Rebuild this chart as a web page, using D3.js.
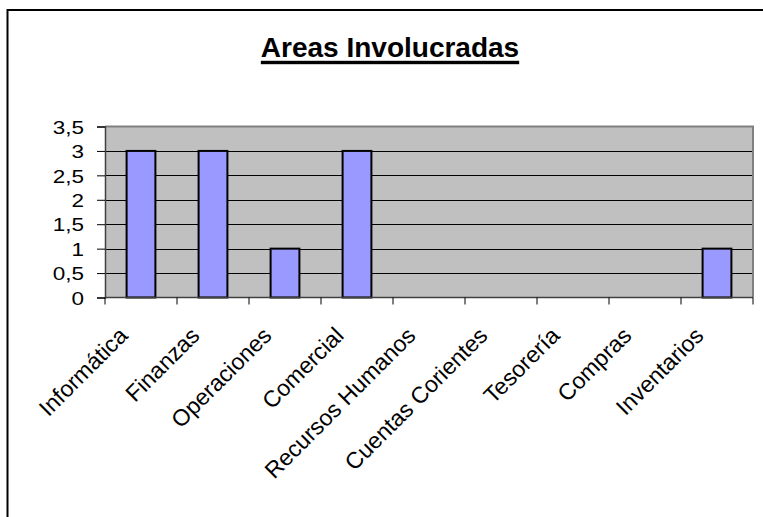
<!DOCTYPE html>
<html>
<head>
<meta charset="utf-8">
<script src="https://cdn.jsdelivr.net/npm/d3@7"></script>
<style>
  html, body { margin: 0; padding: 0; background: #fff; }
  svg { display: block; }
  text { font-family: "Liberation Sans", Arial, sans-serif; fill: #000; }
</style>
</head>
<body>
<svg id="chart" width="763" height="517"></svg>
<script>
const chartTitle = "Areas Involucradas";
const categories = ["Informática", "Finanzas", "Operaciones", "Comercial", "Recursos Humanos",
                    "Cuentas Corientes", "Tesorería", "Compras", "Inventarios"];
const values = [3, 3, 1, 3, 0, 0, 0, 0, 1];
const yTicks = [0, 0.5, 1, 1.5, 2, 2.5, 3, 3.5];

const svg = d3.select("#chart");
const plot = { left: 105, right: 753, top: 126.5, bottom: 297.5 };

// outer frame (right/bottom edges fall outside the picture)
svg.append("rect")
  .attr("x", 7.5).attr("y", 10).attr("width", 820).attr("height", 600)
  .attr("fill", "#fff").attr("stroke", "#000").attr("stroke-width", 2);

// title
const title = svg.append("text")
  .attr("x", 390).attr("y", 57)
  .attr("text-anchor", "middle")
  .style("font-size", "28px").style("font-weight", "bold")
  .text(chartTitle);
const tw = title.node().getComputedTextLength();
svg.append("rect")
  .attr("x", 390 - tw / 2).attr("y", 60.8)
  .attr("width", tw).attr("height", 3.4)
  .attr("fill", "#000");

const x = d3.scaleBand().domain(categories)
  .range([plot.left, plot.right]).paddingInner(0.6).paddingOuter(0.3);
const step = x.step();
const y = d3.scaleLinear().domain([0, 3.5]).range([plot.bottom, plot.top]);

// plot background
svg.append("rect")
  .attr("x", plot.left).attr("y", plot.top)
  .attr("width", plot.right - plot.left).attr("height", plot.bottom - plot.top)
  .attr("fill", "#c0c0c0");

// gridlines
svg.append("g").selectAll("line").data(yTicks.filter(t => t > 0 && t < 3.5)).join("line")
  .attr("x1", plot.left).attr("x2", plot.right)
  .attr("y1", d => Math.round(y(d)) + 0.5).attr("y2", d => Math.round(y(d)) + 0.5)
  .attr("stroke", "#000").attr("stroke-width", 1);

// plot border (top/right grey)
svg.append("path")
  .attr("d", `M${plot.left},${plot.top}H${plot.right}V${plot.bottom}`)
  .attr("fill", "none").attr("stroke", "#808080").attr("stroke-width", 2);

// bars
svg.append("g").selectAll("rect").data(categories.map((c, i) => ({ c, v: values[i] })))
  .join("rect")
  .attr("x", d => x(d.c)).attr("width", x.bandwidth())
  .attr("y", d => y(d.v)).attr("height", d => y(0) - y(d.v))
  .attr("fill", "#9999ff").attr("stroke", "#000").attr("stroke-width", 2);

// y axis
const fmt = d => String(d).replace(".", ",");
const yAxis = d3.axisLeft(y).tickValues(yTicks).tickFormat(fmt).tickSize(8).tickPadding(0);
const gy = svg.append("g").attr("transform", `translate(${plot.left},0)`).call(yAxis);
gy.select(".domain").attr("stroke", "#404040").attr("stroke-width", 1.5);
gy.selectAll(".tick line").attr("stroke", "#000");
gy.selectAll(".tick text").remove();
gy.selectAll(".tick").append("text")
  .attr("text-anchor", "end")
  .attr("dominant-baseline", "central")
  .attr("transform", "translate(-21,0.5) scale(1.25,1)")
  .style("font-size", "18px")
  .text(d => fmt(d));

// x axis with ticks at category boundaries
const gx = svg.append("g").attr("transform", `translate(0,${plot.bottom})`);
gx.append("line").attr("x1", plot.left).attr("x2", plot.right)
  .attr("y1", 0).attr("y2", 0).attr("stroke", "#404040").attr("stroke-width", 1.5);
gx.selectAll("line.tk").data(d3.range(categories.length + 1)).join("line")
  .attr("class", "tk")
  .attr("x1", i => plot.left + i * step).attr("x2", i => plot.left + i * step)
  .attr("y1", 0).attr("y2", 7).attr("stroke", "#000");
gx.selectAll("text").data(categories).join("text")
  .attr("text-anchor", "end")
  .attr("transform", c => `translate(${x(c) + x.bandwidth() / 2 - 12},39.5) rotate(-45)`)
  .style("font-size", "23px")
  .text(c => c);
</script>
</body>
</html>
